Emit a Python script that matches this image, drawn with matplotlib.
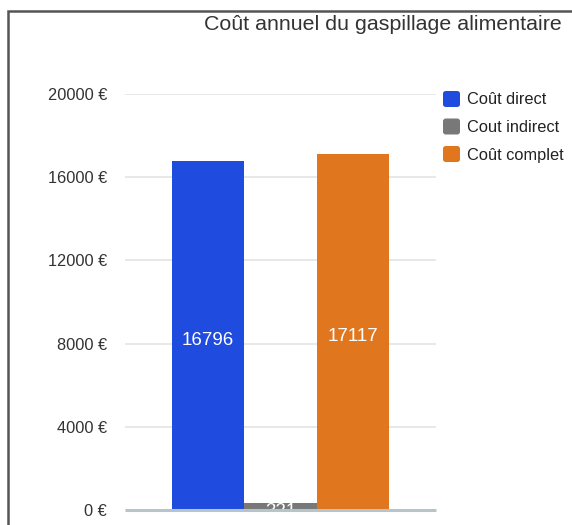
import matplotlib
matplotlib.use("Agg")
import matplotlib.pyplot as plt
from matplotlib.patches import Rectangle, FancyBboxPatch

plt.rcParams['font.family'] = ['Liberation Sans', 'DejaVu Sans']

title = "Coût annuel du gaspillage alimentaire"
series = ["Coût direct", "Cout indirect", "Coût complet"]
values = [16796, 321, 17117]
colors = ["#1f4bdf", "#787878", "#e0771e"]
yticks = [0, 4000, 8000, 12000, 16000, 20000]
ytick_labels = ["0 €", "4000 €", "8000 €", "12000 €", "16000 €", "20000 €"]

W, H = 572, 525
fig = plt.figure(figsize=(W / 100, H / 100), dpi=100)

# outer frame (left and top edges visible)
fig.add_artist(Rectangle((8 / W, -0.1), 1.2, (H - 11) / H + 0.1,
                         transform=fig.transFigure, fill=False,
                         edgecolor="#555555", linewidth=1.8))

ax_left, ax_right = 125, 436
ax_top, ax_bottom = 94, 510
ax = fig.add_axes([ax_left / W, 1 - ax_bottom / H,
                   (ax_right - ax_left) / W, (ax_bottom - ax_top) / H])

group_width = 0.70
bar_w = group_width / len(values)
xs = [-group_width / 2 + bar_w * (i + 0.5) for i in range(len(values))]
bars = ax.bar(xs, values, width=bar_w, color=colors, zorder=3)

for b, v in zip(bars, values):
    ax.annotate(str(v), (b.get_x() + b.get_width() / 2, v / 2),
                xytext=(0, -3.5), textcoords="offset points",
                ha="center", va="center", color="white", fontsize=13.5,
                zorder=4, annotation_clip=False, clip_on=True)

ax.set_xlim(-0.5, 0.5)
ax.set_ylim(0, 20000)
ax.set_yticks(yticks)
ax.set_yticklabels(ytick_labels)
ax.set_xticks([])
ax.tick_params(axis="y", length=0, pad=13, labelsize=11.8, labelcolor="#333333")
ax.grid(axis="y", color="#e8e8e8", linewidth=1.4, zorder=0)
for s in ax.spines.values():
    s.set_visible(False)
ax.axhline(0, color="#b8c4cc", linewidth=2.2, zorder=5, clip_on=False,
           solid_capstyle="butt")

fig.text(562 / W, 1 - 24 / H, title, ha="right", va="center",
         fontsize=15.4, color="#333333")

# legend
for i, (name, c) in enumerate(zip(series, colors)):
    yc = 99 + 27.5 * i
    fig.add_artist(FancyBboxPatch((443 / W, 1 - (yc + 8) / H), 17 / W, 16 / H,
                                  boxstyle="round,pad=0,rounding_size=0.005",
                                  transform=fig.transFigure,
                                  facecolor=c, edgecolor="none"))
    fig.text(467 / W, 1 - (yc + 1) / H, name, ha="left", va="center",
             fontsize=11.8, color="#222222")

fig.savefig("out.png", dpi=100)
